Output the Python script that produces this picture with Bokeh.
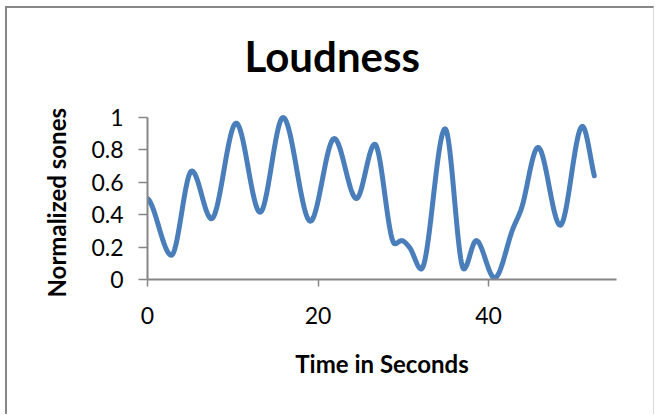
import numpy as np
from bokeh.plotting import figure
from bokeh.models import Range1d, FixedTicker, NumeralTickFormatter, Title
from bokeh.embed import file_html
from bokeh.resources import INLINE

# Loudness samples (time in seconds, normalized sones)
time_s = [0, 2.8, 5.2, 7.5, 10.4, 13.2, 15.9, 19.1, 21.9, 24.5, 26.65,
          29.0, 29.8, 30.7, 32.1, 34.9, 37.1, 38.55, 40.7, 42.9, 43.8,
          45.8, 48.4, 51.0, 52.4]
loudness = [0.50, 0.15, 0.67, 0.375, 0.965, 0.415, 1.0, 0.36, 0.87, 0.50,
            0.835, 0.22, 0.24, 0.20, 0.065, 0.93, 0.065, 0.24, 0.01, 0.32,
            0.43, 0.815, 0.335, 0.945, 0.64]

x_ticks = [0, 20, 40]
y_ticks = [0, 0.2, 0.4, 0.6, 0.8, 1.0]


def smooth_curve(x, y, per_seg=30):
    """Shape-preserving cubic Hermite (PCHIP) curve through the samples."""
    x = np.asarray(x, float)
    y = np.asarray(y, float)
    h = np.diff(x)
    d = np.diff(y) / h
    n = len(x)
    m = np.zeros(n)
    for k in range(1, n - 1):
        if d[k - 1] * d[k] > 0:
            w1 = 2 * h[k] + h[k - 1]
            w2 = h[k] + 2 * h[k - 1]
            m[k] = (w1 + w2) / (w1 / d[k - 1] + w2 / d[k])
    m[0] = d[0] * 0.3
    m[-1] = d[-1]
    xs, ys = [], []
    for k in range(n - 1):
        t = np.linspace(0, 1, per_seg, endpoint=(k == n - 2))
        h00 = 2 * t**3 - 3 * t**2 + 1
        h10 = t**3 - 2 * t**2 + t
        h01 = -2 * t**3 + 3 * t**2
        h11 = t**3 - t**2
        xs.append(x[k] + t * h[k])
        ys.append(h00 * y[k] + h10 * h[k] * m[k] + h01 * y[k + 1] + h11 * h[k] * m[k + 1])
    return np.concatenate(xs), np.concatenate(ys)


cx, cy = smooth_curve(time_s, loudness)

# the plot area keeps some empty headroom above 1 so the title sits close to it
p = figure(width=649, height=408, output_backend="svg", toolbar_location=None,
           x_range=Range1d(0, 55), y_range=Range1d(0, 1.1975),
           min_border_left=140, min_border_right=40,
           min_border_top=77, min_border_bottom=137)
p.styles = {"margin-left": "5px", "margin-top": "6px",
            "border-top": "2px solid #878787", "border-left": "2px solid #878787",
            "border-right": "1px solid #d9d9d9"}

p.line(cx, cy, line_width=5, line_color="#4A7EBB",
       line_cap="round", line_join="round")

p.title.text = "Loudness"
p.title.text_font = "Lato"
p.title.text_font_style = "bold"
p.title.text_font_size = "42px"
p.title.text_color = "black"
p.title.align = "left"
p.title.offset = 97
p.title.standoff = 10

p.grid.visible = False
p.outline_line_color = None
p.background_fill_color = "white"
p.border_fill_color = "white"

for ax in (p.xaxis[0], p.yaxis[0]):
    ax.axis_line_color = "#868686"
    ax.axis_line_width = 2
    ax.major_tick_line_color = "#868686"
    ax.major_tick_line_width = 1.5
    ax.major_tick_in = 0
    ax.minor_tick_line_color = None
    ax.major_label_text_font = "Lato"
    ax.major_label_text_font_size = "23px"
    ax.major_label_text_color = "black"
    ax.axis_label_text_font = "Lato"
    ax.axis_label_text_font_style = "bold"
    ax.axis_label_text_font_size = "24px"
    ax.axis_label_text_color = "black"

xa = p.xaxis[0]
xa.ticker = FixedTicker(ticks=x_ticks)
xa.bounds = (0, 55)
xa.major_tick_out = 7
xa.major_label_standoff = 20
xa.axis_label = "Time in Seconds"
xa.axis_label_standoff = 22

ya = p.yaxis[0]
ya.ticker = FixedTicker(ticks=y_ticks)
ya.formatter = NumeralTickFormatter(format="0.[0]")
ya.bounds = (0, 1)
ya.major_tick_out = 9
ya.major_label_standoff = 15

# y-axis title, anchored near the bottom of the value axis
p.add_layout(Title(text="Normalized sones", align="left", offset=-18,
                   standoff=36, vertical_align="bottom", text_font="Lato",
                   text_font_style="bold", text_font_size="24px",
                   text_color="black"), "left")

open("out.html", "w").write(file_html(p, INLINE))
